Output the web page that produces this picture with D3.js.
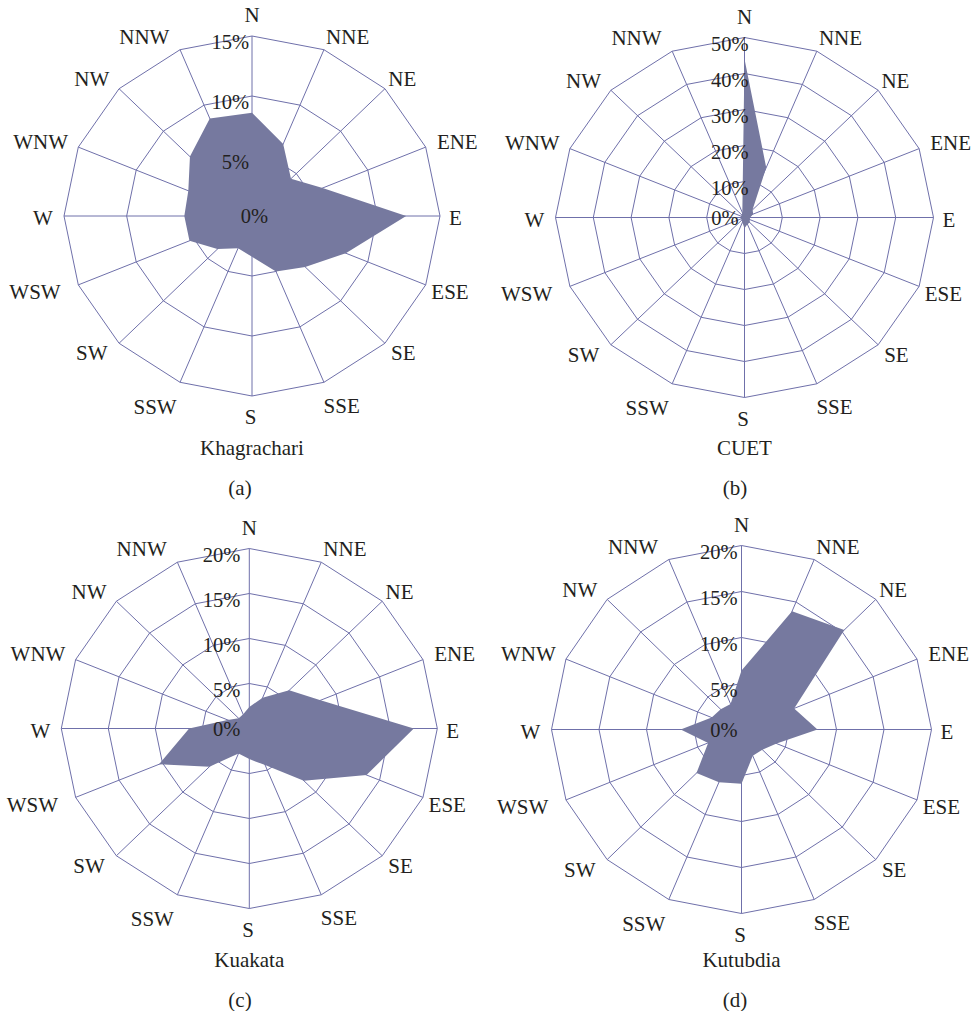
<!DOCTYPE html>
<html>
<head>
<meta charset="utf-8">
<script src="https://cdn.jsdelivr.net/npm/d3@7"></script>
<style>
  html, body { margin: 0; padding: 0; background: #ffffff; }
  svg { display: block; }
  text { font-family: "Liberation Serif", "DejaVu Serif", serif; fill: #231f20; }
</style>
</head>
<body>
<svg id="chart" width="971" height="1011"></svg>
<script>
// ---- data ----
const directions = ["N","NNE","NE","ENE","E","ESE","SE","SSE","S","SSW","SW","WSW","W","WNW","NW","NNW"];

const khagrachari = [8.6, 6.5, 4.4, 6.1, 12.3, 8.1, 6.0, 5.0, 3.4, 2.9, 3.9, 5.4, 5.4, 5.5, 7.0, 8.8];
const cuet        = [44, 15, 3, 2.5, 1.5, 1.5, 2, 2, 3, 1.5, 1, 1, 1, 1, 1, 1.5];
const kuakata     = [2.4, 3.7, 6.0, 8.2, 17.5, 13.5, 8.2, 4.4, 3.4, 3.0, 6.0, 10.4, 6.4, 2.5, 1.6, 1.7];
const kutubdia    = [6.4, 13.9, 15.3, 6.0, 8.0, 4.0, 3.1, 3.1, 5.9, 6.2, 6.7, 3.8, 6.4, 3.4, 3.1, 3.0];

const ticksA = [0, 5, 10, 15];
const ticksB = [0, 10, 20, 30, 40, 50];
const ticksC = [0, 5, 10, 15, 20];
const ticksD = [0, 5, 10, 15, 20];

const stationNames = ["Khagrachari", "CUET", "Kuakata", "Kutubdia"];
const panelLetters = ["(a)", "(b)", "(c)", "(d)"];

// ---- layout (positions / sizes / styles) ----
const panels = [
  { values: khagrachari, ticks: ticksA, cx: 252,   cy: 216,   rx: 188, ry: 180, tickDx: -3, zeroDx: 16, titleY: 448, capX: 240, capY: 488 },
  { values: cuet,        ticks: ticksB, cx: 744.5, cy: 217.5, rx: 189, ry: 180, tickDx: 4,  zeroDx: -6, titleY: 448, capX: 735, capY: 488 },
  { values: kuakata,     ticks: ticksC, cx: 249.3, cy: 728.5, rx: 188, ry: 180, tickDx: -9, zeroDx: -9, titleY: 960, capX: 240, capY: 1000 },
  { values: kutubdia,    ticks: ticksD, cx: 741.5, cy: 729.5, rx: 190, ry: 184, tickDx: -4, zeroDx: -4, titleY: 960, capX: 735, capY: 1000 }
];
// label centre offsets from each outer vertex, in direction order
const labelDx = [0, 23.7, 17.3, 31.6, 15.3, 24.3, 18.3, 17.7, -1.3, -25, -27.3, -43.3, -21, -37.6, -27.3, -35.7];
const labelDy = [-21, -13, -9.7, -5.3, 2, 7.4, 10, 23.4, 21.3, 24.5, 10, 7.4, 2, -5.3, -9.7, -13];

const gridColor = "#6f70aa";
const fillColor = "#76799f";
const svg = d3.select("#chart");

const angle = d3.scaleBand().domain(directions).range([0, 2 * Math.PI]).paddingInner(0).paddingOuter(0);

panels.forEach((p, i) => {
  const maxV = d3.max(p.ticks);
  const sx = d3.scaleLinear().domain([0, maxV]).range([0, p.rx]);
  const sy = d3.scaleLinear().domain([0, maxV]).range([0, p.ry]);
  const pt = (dir, v) => {
    const a = angle(dir);
    return [p.cx + sx(v) * Math.sin(a), p.cy - sy(v) * Math.cos(a)];
  };
  const g = svg.append("g");
  const ring = d3.line().curve(d3.curveLinearClosed);

  // rings
  g.selectAll("path.ring").data(p.ticks.filter(t => t > 0)).join("path")
    .attr("class", "ring")
    .attr("d", t => ring(directions.map(d => pt(d, t))))
    .attr("fill", "none").attr("stroke", gridColor).attr("stroke-width", 1);

  // spokes
  g.selectAll("line.spoke").data(directions).join("line")
    .attr("class", "spoke")
    .attr("x1", p.cx).attr("y1", p.cy)
    .attr("x2", d => pt(d, maxV)[0]).attr("y2", d => pt(d, maxV)[1])
    .attr("stroke", gridColor).attr("stroke-width", 1);

  // data polygon
  g.append("path")
    .attr("d", ring(directions.map((d, k) => pt(d, p.values[k]))))
    .attr("fill", fillColor).attr("stroke", "none");

  // tick labels
  g.selectAll("text.tick").data(p.ticks).join("text")
    .attr("class", "tick")
    .attr("x", t => p.cx + (t === 0 ? p.zeroDx : p.tickDx))
    .attr("y", t => p.cy - sy(t) + (t === 0 ? 0 : 6))
    .attr("text-anchor", "end")
    .attr("dominant-baseline", "central")
    .attr("font-size", 20.5)
    .text(t => t + "%");

  // direction labels
  g.selectAll("text.dir").data(directions).join("text")
    .attr("class", "dir")
    .attr("font-size", 21)
    .attr("text-anchor", "middle")
    .attr("dominant-baseline", "central")
    .attr("x", (d, k) => pt(d, maxV)[0] + labelDx[k])
    .attr("y", (d, k) => pt(d, maxV)[1] + labelDy[k])
    .text(d => d);

  // station title
  g.append("text")
    .attr("x", p.cx).attr("y", p.titleY)
    .attr("text-anchor", "middle").attr("dominant-baseline", "central")
    .attr("font-size", 21)
    .text(stationNames[i]);

  // panel letter
  g.append("text")
    .attr("x", p.capX).attr("y", p.capY)
    .attr("text-anchor", "middle").attr("dominant-baseline", "central")
    .attr("font-size", 21)
    .text(panelLetters[i]);
});
</script>
</body>
</html>
